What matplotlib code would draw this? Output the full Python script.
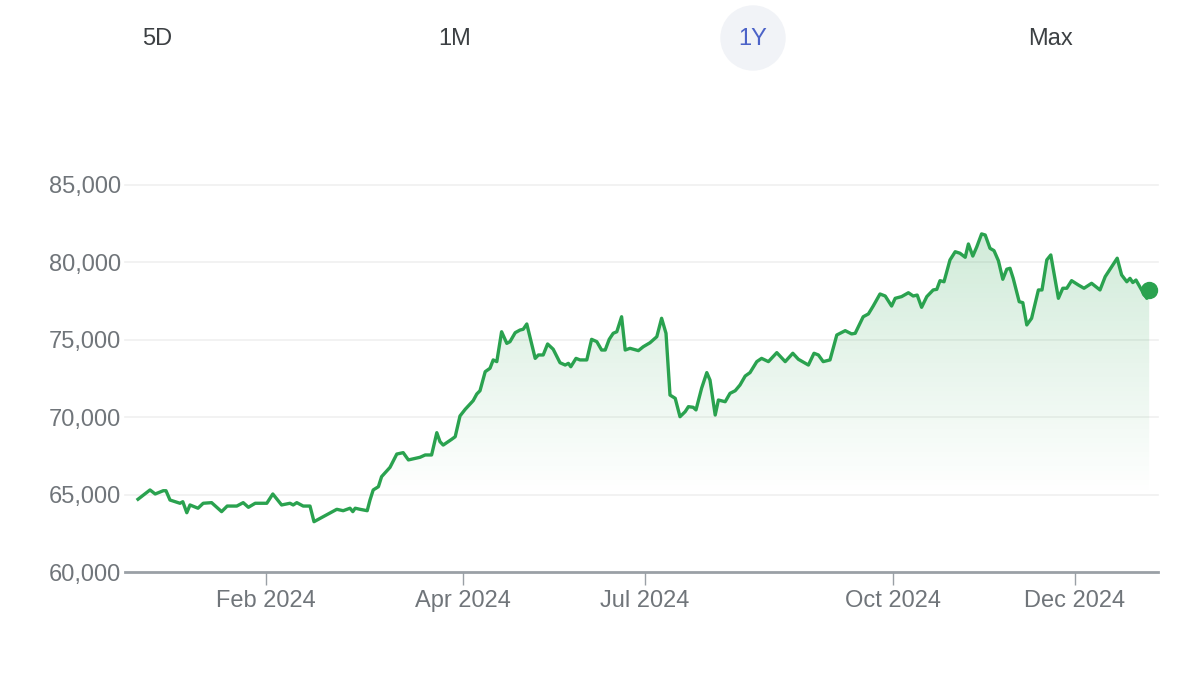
import matplotlib
matplotlib.use("Agg")
import matplotlib.pyplot as plt
import numpy as np
from matplotlib.patches import Ellipse

# trading session index (0 = first session of the year) and closing value
sessions = [0, 3.0, 4.3, 6.3, 7.0, 8.0, 10.5, 11.2, 12.2, 13.0, 15.0, 16.3, 18.4, 20.9, 22.3,
            24.7, 26.3, 27.6, 29.3, 32.2, 33.7, 35.9, 38.0, 38.8, 39.7, 41.3, 43.0, 44.0, 46.3,
            49.7, 51.3, 53.0, 53.7, 54.3, 55.5, 57.3, 58.0, 58.8, 60.1, 60.9, 61.8, 63.0, 64.7,
            66.3, 67.6, 70.5, 71.8, 73.4, 74.7, 75.5, 76.3, 78.4, 79.3, 80.5, 81.8, 83.8, 84.7,
            85.5, 86.8, 88.0, 88.8, 89.7, 90.9, 92.2, 93.0, 94.3, 95.5, 96.3, 97.2, 99.3, 100.1,
            101.3, 102.4, 103.8, 105.5, 106.8, 107.6, 108.2, 109.5, 110.5, 112.2, 113.4, 114.7,
            115.9, 116.8, 117.8, 118.8, 119.7, 120.9, 121.8, 123.0, 125.1, 126.3, 128.0, 129.7,
            130.9, 132.0, 133.0, 134.3, 135.5, 136.8, 137.6, 138.8, 139.5, 140.9, 142.2, 143.0,
            144.3, 145.1, 146.8, 148.0, 149.3, 150.5, 151.8, 153.0, 154.7, 155.9, 157.6, 159.7,
            161.8, 163.7, 165.1, 167.6, 169.0, 170.1, 171.3, 173.0, 174.7, 176.8, 178.4, 179.3,
            181.3, 182.6, 183.8, 185.5, 186.8, 188.4, 189.3, 190.9, 192.6, 193.8, 194.8, 195.9,
            197.2, 198.8, 199.7, 200.5, 201.5, 203.0, 204.3, 205.5, 206.8, 207.6, 208.7, 209.7,
            210.9, 211.8, 213.0, 214.0, 215.1, 216.2, 217.2, 218.0, 218.8, 220.3, 221.2, 222.2,
            223.4, 225.1, 226.0, 227.2, 228.2, 230.1, 231.2, 232.2, 233.4, 235.1, 236.5, 238.4,
            240.5, 241.8, 243.4, 244.8, 245.9, 247.2, 248.0, 248.7, 249.5, 250.9, 252.2, 252.8]
prices = [64700, 65300, 65040, 65250, 65250, 64650, 64440, 64540, 63830, 64330, 64120, 64440,
          64480, 63900, 64260, 64260, 64480, 64180, 64440, 64440, 65040, 64330, 64440, 64330,
          64480, 64260, 64260, 63250, 63570, 64050, 63960, 64120, 63900, 64120, 64050, 63960,
          64650, 65300, 65510, 66160, 66420, 66760, 67620, 67710, 67240, 67410, 67560, 67560,
          69000, 68420, 68200, 68570, 68740, 70080, 70510, 71070, 71500, 71710, 72940, 73160,
          73700, 73590, 75520, 74770, 74880, 75460, 75630, 75680, 76020, 73800, 74020, 74020,
          74730, 74390, 73520, 73370, 73480, 73260, 73800, 73700, 73700, 75030, 74880, 74340,
          74340, 75030, 75420, 75520, 76490, 74340, 74450, 74300, 74550, 74810, 75200, 76390,
          75420, 71430, 71220, 70030, 70360, 70680, 70640, 70470, 71870, 72880, 72400, 70140,
          71110, 71000, 71540, 71710, 72080, 72660, 72880, 73590, 73800, 73590, 74170, 73590,
          74130, 73740, 73370, 74130, 74020, 73590, 73700, 75310, 75590, 75380, 75420, 76490,
          76670, 77180, 77960, 77830, 77180, 77680, 77790, 78040, 77830, 77890, 77100, 77790,
          78220, 78260, 78820, 78750, 80160, 80690, 80590, 80330, 81190, 80410, 81010, 81840,
          81770, 80910, 80760, 80110, 78910, 79560, 79620, 78970, 77460, 77400, 75960, 76390,
          78220, 78220, 80160, 80480, 77680, 78330, 78330, 78820, 78540, 78330, 78650, 78220,
          79080, 79720, 80270, 79190, 78750, 78970, 78700, 78860, 78220, 77680, 78220]

tick_sessions = [32.0, 81.25, 126.75, 188.75, 234.25]
tick_labels = ["Feb 2024", "Apr 2024", "Jul 2024", "Oct 2024", "Dec 2024"]
y_ticks = [60000, 65000, 70000, 75000, 80000, 85000]
ranges = ["5D", "1M", "1Y", "Max"]

green = "#2aa24f"
grey_txt = "#70757a"
font = "Liberation Sans"

x = np.array(sessions)
y = np.array(prices)

fig = plt.figure(figsize=(11.98, 6.75), dpi=100)
ax = fig.add_axes([125 / 1198, 103 / 675, 1033 / 1198, 387 / 675])
ax.set_xlim(-3.25, 255)
ax.set_ylim(60000, 85000)

for v in y_ticks[1:]:
    ax.axhline(v, color="#f0f0f0", lw=1.2, zorder=0, clip_on=False)

# gradient under the line
grad = np.zeros((200, 2, 4))
grad[:, :, 0] = 0.16
grad[:, :, 1] = 0.64
grad[:, :, 2] = 0.31
grad[:, :, 3] = np.linspace(0.22, 0.0, 200)[:, None]
img = ax.imshow(grad, extent=[x[0], x[-1], 65000, 82000], origin="upper",
                aspect="auto", zorder=1)
poly = ax.fill_between(x, y, 60000, color="none", lw=0)
img.set_clip_path(poly.get_paths()[0], transform=ax.transData)

ax.plot(x, y, color=green, lw=2.4, zorder=3, solid_joinstyle="round")
ax.plot(x[-1], y[-1], "o", color=green, ms=11.5, zorder=4, clip_on=False)

for s in ["top", "right", "left"]:
    ax.spines[s].set_visible(False)
ax.spines["bottom"].set_color("#9aa0a6")
ax.spines["bottom"].set_linewidth(2)

ax.set_yticks(y_ticks)
ax.set_yticklabels([f"{v:,}" for v in y_ticks], fontsize=17, color=grey_txt, family=font)
ax.tick_params(axis="y", length=0, pad=3)
ax.set_xticks(tick_sessions)
ax.set_xticklabels(tick_labels, fontsize=17, color=grey_txt, family=font)
ax.tick_params(axis="x", length=9, width=1, color="#9aa0a6", pad=4)

# range selector
xs = [157, 455, 753, 1051]
for i, r in enumerate(ranges):
    if r == "1Y":
        fig.patches.append(Ellipse((xs[i] / 1198, 1 - 38 / 675), 64 / 1198, 64 / 675,
                                   transform=fig.transFigure, color="#f1f3f7", zorder=0))
        fig.text(xs[i] / 1198, 1 - 39 / 675, r, ha="center", va="center",
                 fontsize=17, color="#4c63c8", family=font)
    else:
        fig.text(xs[i] / 1198, 1 - 39 / 675, r, ha="center", va="center",
                 fontsize=17, color="#3c4043", family=font)

fig.savefig("out.png", dpi=100)
